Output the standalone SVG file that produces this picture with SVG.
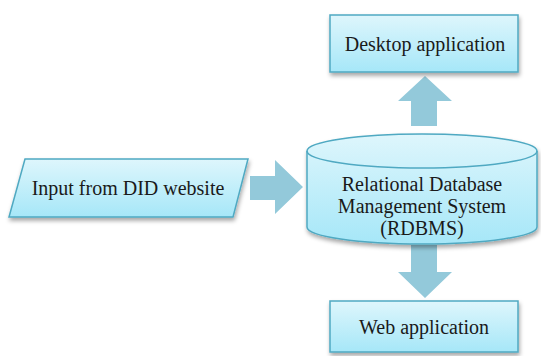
<svg xmlns="http://www.w3.org/2000/svg" width="541" height="356" viewBox="0 0 541 356">
  <defs>
    <linearGradient id="boxFill" x1="0" y1="0" x2="0" y2="1">
      <stop offset="0" stop-color="#def6fc"/>
      <stop offset="1" stop-color="#a6e7f8"/>
    </linearGradient>
    <filter id="shadow" x="-10%" y="-10%" width="125%" height="135%">
      <feDropShadow dx="1" dy="3" stdDeviation="2" flood-color="#000" flood-opacity="0.35"/>
    </filter>
  </defs>
  <style>
    .shape { fill: url(#boxFill); stroke: #4fa9c2; stroke-width: 1.5; filter: url(#shadow); }
    .arrow { fill: #93c9da; stroke: none; }
    .label { font-family: 'Liberation Serif', 'DejaVu Serif', serif; font-size: 20px; fill: #1a1a1a; text-anchor: middle; }
  </style>
  <rect width="541" height="356" fill="#ffffff"/>

  <g id="connectors">
    <!-- input to database -->
    <polygon class="arrow" points="250,176 275,176 275,160 303,187 275,214 275,200 250,200"/>
    <!-- database up to desktop -->
    <polygon class="arrow" points="411,126 411,101 398,101 425,76 452,101 437,101 437,126"/>
    <!-- database down to web -->
    <polygon class="arrow" points="411,245 437,245 437,272 452,272 425,298 398,272 411,272"/>
  </g>

  <g id="input">
    <polygon class="shape" points="25,159 248,159 233,217 9,217"/>
    <text class="label" x="128" y="195" font-family="Liberation Serif, serif">Input from DID website</text>
  </g>

  <g id="desktop">
    <rect class="shape" x="330" y="15" width="188" height="57"/>
    <text class="label" x="425" y="51">Desktop application</text>
  </g>

  <g id="rdbms">
    <path class="shape" d="M307,151 A115,17 0 0 1 537,151 L537,227 A115,17 0 0 1 307,227 Z"/>
    <path d="M307,151 A115,17 0 0 0 537,151" fill="none" stroke="#4fa9c2" stroke-width="1.5"/>
    <text class="label" x="422" y="191">Relational Database</text>
    <text class="label" x="422" y="213">Management System</text>
    <text class="label" x="422" y="235">(RDBMS)</text>
  </g>

  <g id="web">
    <rect class="shape" x="330" y="301" width="188" height="51"/>
    <text class="label" x="424" y="334">Web application</text>
  </g>
</svg>
